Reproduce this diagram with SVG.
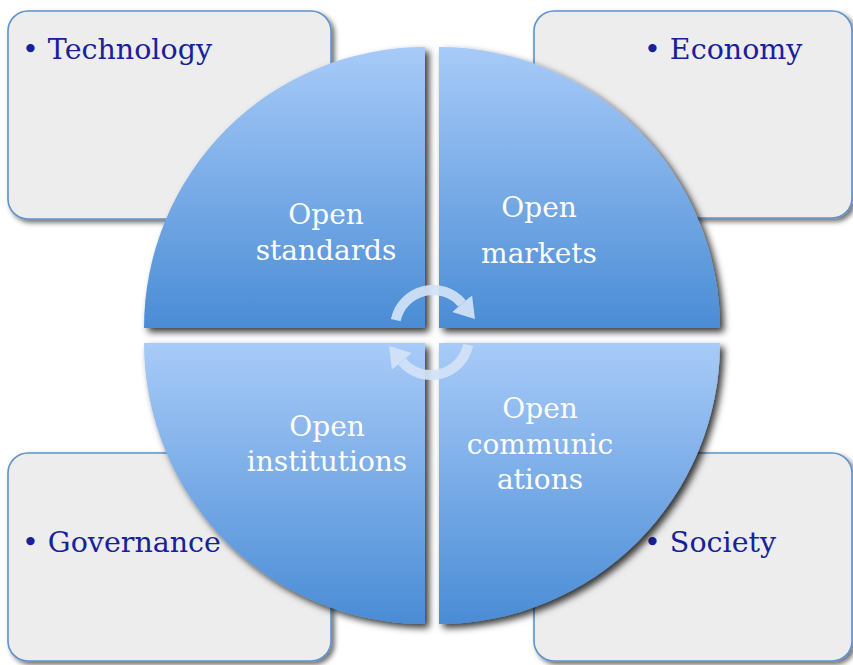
<svg xmlns="http://www.w3.org/2000/svg" width="853" height="665" viewBox="0 0 853 665">
  <defs>
    <linearGradient id="qgrad" x1="0" y1="0" x2="0" y2="1">
      <stop offset="0" stop-color="#a8cbf8"/>
      <stop offset="1" stop-color="#4a8cd5"/>
    </linearGradient>
    <filter id="boxShadow" x="-10%" y="-10%" width="125%" height="125%">
      <feDropShadow dx="3" dy="3" stdDeviation="2.5" flood-color="#000" flood-opacity="0.55"/>
    </filter>
    <filter id="qShadow" x="-10%" y="-10%" width="125%" height="125%">
      <feDropShadow dx="4" dy="4" stdDeviation="3.5" flood-color="#000" flood-opacity="0.78"/>
    </filter>
    <marker id="ah" markerUnits="userSpaceOnUse" markerWidth="26" markerHeight="28" refX="0" refY="13" orient="auto" viewBox="0 0 26 26">
      <path d="M0,0 L20,13 L0,26 Z" fill="#d3e3f8"/>
    </marker>
  </defs>
  <style>
    .box { fill: #ededed; stroke: #5f91cc; stroke-width: 1.6; filter: url(#boxShadow); }
    .quad { fill: url(#qgrad); filter: url(#qShadow); }
    .blabel { font-family: "DejaVu Serif", "Liberation Serif", serif; font-size: 28.5px; fill: #16219b; }
    .qlabel { font-family: "DejaVu Serif", "Liberation Serif", serif; font-size: 28px; fill: #ffffff; text-anchor: middle; }
    .cyc { fill: none; stroke: #d3e3f8; stroke-width: 10; opacity: 0.92; }
  </style>

  <g id="box-technology">
    <rect class="box" x="8" y="11" width="323" height="208" rx="20"/>
    <text class="blabel" x="22" y="59">• Technology</text>
  </g>
  <g id="box-economy">
    <rect class="box" x="534" y="11" width="318" height="207" rx="20"/>
    <text class="blabel" x="644" y="59">• Economy</text>
  </g>
  <g id="box-governance">
    <rect class="box" x="8" y="453" width="323" height="208" rx="20"/>
    <text class="blabel" x="22" y="552">• Governance</text>
  </g>
  <g id="box-society">
    <rect class="box" x="534" y="453" width="318" height="208" rx="20"/>
    <text class="blabel" x="644" y="552">• Society</text>
  </g>

  <g id="quad-standards">
    <path class="quad" d="M425,328 L144,328 A281,281 0 0 1 425,47 Z"/>
    <text class="qlabel" x="326" y="224">Open</text>
    <text class="qlabel" x="326" y="260">standards</text>
  </g>
  <g id="quad-markets">
    <path class="quad" d="M439,328 L439,47 A281,281 0 0 1 720,328 Z"/>
    <text class="qlabel" x="539" y="217">Open</text>
    <text class="qlabel" x="539" y="263">markets</text>
  </g>
  <g id="quad-institutions">
    <path class="quad" d="M425,343 L425,624 A281,281 0 0 1 144,343 Z"/>
    <text class="qlabel" x="327" y="436">Open</text>
    <text class="qlabel" x="327" y="471">institutions</text>
  </g>
  <g id="quad-communications">
    <path class="quad" d="M439,343 L720,343 A281,281 0 0 1 439,624 Z"/>
    <text class="qlabel" x="540" y="418">Open</text>
    <text class="qlabel" x="540" y="454">communic</text>
    <text class="qlabel" x="540" y="489">ations</text>
  </g>

  <g id="connectors">
    <path class="cyc" d="M395.8,320.1 A38,38 0 0 1 462.1,303.6" marker-end="url(#ah)"/>
    <path class="cyc" d="M468.2,344.9 A38,38 0 0 1 401.9,361.4" marker-end="url(#ah)"/>
  </g>
</svg>
